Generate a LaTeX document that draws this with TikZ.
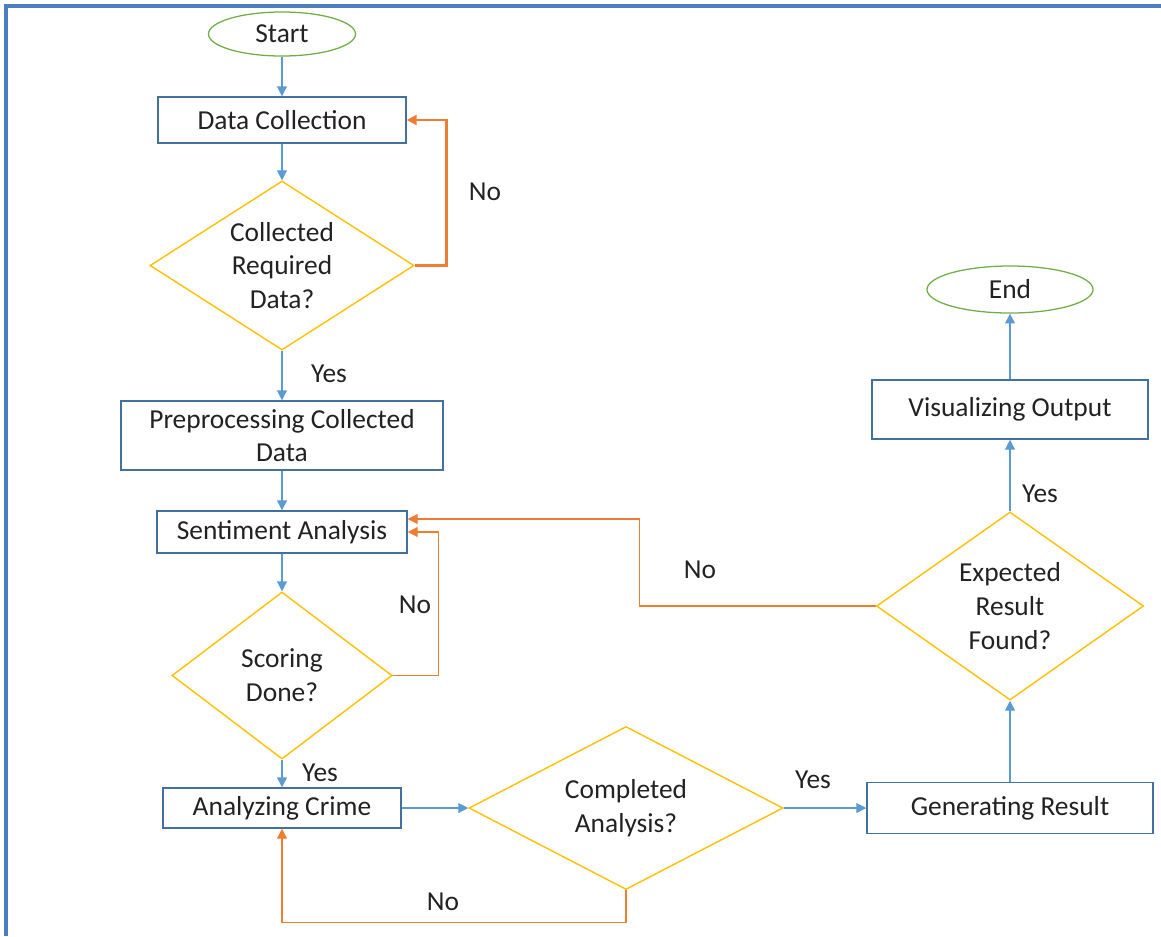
\documentclass[tikz,border=0pt]{standalone}
\usepackage{fontspec}
\setmainfont{Carlito}
\usepackage{xcolor}
\usepackage{tikz}
\usetikzlibrary{calc}
\usetikzlibrary{arrows.meta,shapes.geometric}

\definecolor{boxblue}{HTML}{41719C}
\definecolor{arrowblue}{HTML}{5B9BD5}
\definecolor{framblue}{HTML}{4F7EC0}
\definecolor{decgold}{HTML}{FFC000}
\definecolor{termgreen}{HTML}{70AD47}
\definecolor{loopor}{HTML}{ED7D31}
\definecolor{txt}{HTML}{222222}

\tikzset{
  every node/.style={text=txt,font=\fontsize{19.5}{24}\selectfont},
  procbox/.style={draw=boxblue,line width=1pt,rectangle,align=center,inner sep=2pt},
  decision/.style={draw=decgold,line width=1pt,diamond,align=center,inner sep=0pt},
  terminal/.style={draw=termgreen,line width=0.9pt,ellipse,inner sep=0pt},
  flow/.style={draw=arrowblue,line width=0.8pt,-{Triangle[length=7pt,width=7pt]}},
  back/.style={draw=loopor,line width=0.8pt,-{Triangle[length=7pt,width=7pt]}},
}

\begin{document}
\begin{tikzpicture}[x=0.025cm,y=-0.025cm]
\useasboundingbox (0,0) rectangle (1161,936);

% Frame
\draw[framblue,line width=2.2pt] (6,936) -- (6,6) -- (1161,6);

% Left column
\node[terminal,minimum width=3.675cm,minimum height=1.1cm] (start) at (282,34) {Start};
\node[procbox,minimum width=6.2cm,minimum height=1.15cm] (collect) at (282,120) {Data Collection};
\node[decision,aspect=1.56,minimum width=6.6cm,minimum height=4.225cm] (gotdata) at (282,265.5) {Collected\\Required\\Data?};
\node[procbox,minimum width=8.05cm,minimum height=1.725cm] (prep) at (282,435.5) {Preprocessing Collected\\Data};
\node[procbox,minimum width=6.25cm,minimum height=1.05cm] (senti) at (282,532) {Sentiment Analysis};
\node[decision,aspect=1.32,minimum width=5.5cm,minimum height=4.175cm] (scored) at (282,675.5) {Scoring\\Done?};
\node[procbox,minimum width=5.95cm,minimum height=1cm] (crime) at (282,808) {Analyzing Crime};

% Bottom and right column
\node[decision,aspect=1.93,minimum width=7.85cm,minimum height=4.075cm] (analysed) at (626,808) {Completed\\Analysis?};
\node[procbox,minimum width=7.15cm,minimum height=1.275cm] (result) at (1010,808) {Generating Result};
\node[decision,aspect=1.42,minimum width=6.675cm,minimum height=4.7cm] (found) at (1010,606) {Expected\\Result\\Found?};
\node[procbox,minimum width=6.9cm,minimum height=1.475cm] (visual) at (1010,409.5) {Visualizing Output};
\node[terminal,minimum width=4.15cm,minimum height=1.175cm] (stop) at (1010,289.5) {End};

% Forward flow
\draw[flow] (start) -- (collect);
\draw[flow] (collect) -- (gotdata);
\draw[flow] (gotdata) -- (prep);
\draw[flow] (prep) -- (senti);
\draw[flow] (senti) -- (scored);
\draw[flow] (scored) -- (crime);
\draw[flow] (crime) -- (analysed);
\draw[flow] (analysed) -- (result);
\draw[flow] (result) -- (found);
\draw[flow] (found) -- (visual);
\draw[flow] (visual) -- (stop);

% Loops back
\draw[back,line width=2pt] (gotdata.east) -- ++(32,0) |- (collect.east);
\draw[back] (scored.east) -- ++(46,0) |- (senti.east);
\draw[back] (found.west) -- ++(-236,0) |- ([yshift=0.325cm]senti.east);
\draw[back] (analysed.south) -- ++(0,32) -| (crime.south);

% Labels
\node (nodata) at (485,192) {No};
\node (yesdata) at (329,374) {Yes};
\node (noscore) at (415,605) {No};
\node (yesscore) at (320,773) {Yes};
\node (noanalysis) at (443,902) {No};
\node (yesanalysis) at (813,780) {Yes};
\node (nofound) at (700,570) {No};
\node (yesfound) at (1040,494) {Yes};
\end{tikzpicture}
\end{document}
